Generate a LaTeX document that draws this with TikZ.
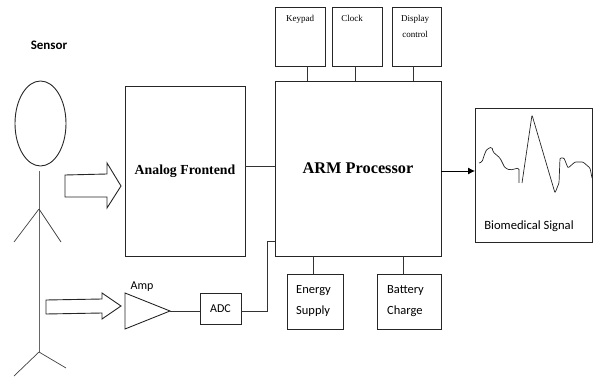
\documentclass[tikz,border=0pt]{standalone}
\usepackage{fontspec}
\setmainfont{Liberation Serif}
\newfontfamily\calibrifont{Carlito}
\usetikzlibrary{arrows.meta,positioning,shapes.geometric}

\begin{document}
\begin{tikzpicture}[
  x=1pt, y=-1pt,
  line width=0.9pt,
  box/.style={draw=black!85, inner sep=0pt, outer sep=0pt},
  arrow/.style={-{Latex[length=7pt,width=7pt]}, line width=0.9pt},
  link/.style={draw=black!80},
  limb/.style={draw=black!75},
  hollow/.style={draw=black!85, fill=white, line join=miter},
  smalltxt/.style={inner sep=0pt, font=\fontsize{9}{16}\selectfont},
  sidetxt/.style={inner sep=0pt, align=left, font=\calibrifont\fontsize{12.5}{21}\selectfont}
]
\useasboundingbox (0,0) rectangle (596,379);

% main blocks
\node[box, minimum width=166pt, minimum height=175pt, font=\bfseries\fontsize{16.3}{18}\selectfont] (arm) at (358,168.5) {ARM Processor};
\node[box, minimum width=120pt, minimum height=170pt, left=30pt of arm, yshift=-2.5pt, font=\bfseries\fontsize{13.8}{16}\selectfont] (af) {Analog Frontend};
\node[box, minimum width=117pt, minimum height=134pt, right=34pt of arm, yshift=-6.5pt] (bio) {};
\node[sidetxt, font=\calibrifont\fontsize{12.6}{14}\selectfont] (biotxt) at (529,226) {Biomedical Signal};

% top row
\node[box, minimum width=50pt, minimum height=59pt, above right=15pt and 0pt of arm.north west] (keypad) {};
\node[box, minimum width=50pt, minimum height=59pt, right=7pt of keypad] (clock) {};
\node[box, minimum width=49pt, minimum height=59pt, right=10pt of clock] (display) {};
\node[smalltxt, below=8pt of keypad.north] (keypadtxt) {Keypad};
\node[smalltxt, below=8pt of clock.north, xshift=-5pt] (clocktxt) {Clock};
\node[smalltxt, below=8pt of display.north, align=center, xshift=-1.5pt] (displaytxt) {Display\\control};

% bottom row
\node[box, minimum width=56pt, minimum height=55pt, below right=18pt and 12pt of arm.south west] (energy) {};
\node[box, minimum width=64pt, minimum height=55pt, right=34pt of energy] (battery) {};
\node[sidetxt] (energytxt) at (313.5,301) {Energy\\Supply};
\node[sidetxt] (batterytxt) at (405.5,301) {Battery\\Charge};

% amp and adc
\node[draw=black!85, isosceles triangle, isosceles triangle stretches, minimum width=36pt, minimum height=45pt, inner sep=0pt, outer sep=0pt, anchor=lower side] (amp) at (125,311) {};
\node[sidetxt, font=\calibrifont\fontsize{12}{14}\selectfont] (amptxt) at (142,287) {Amp};
\node[box, minimum width=41pt, minimum height=31pt, font=\calibrifont\fontsize{12}{14}\selectfont] (adc) at (220.5,308.5) {ADC};
\node[inner sep=0pt, font=\calibrifont\bfseries\fontsize{13}{15}\selectfont] (sensor) at (49,45) {Sensor};

% person
\node[draw=black!85, ellipse, minimum width=51pt, minimum height=85pt, inner sep=0pt, outer sep=0pt] (head) at (40.5,123.5) {};
\coordinate (neck) at (39,171);
\coordinate (hip) at (39,352);
\coordinate (shoulder) at (39,209);
\draw[limb, draw=black!60] (neck) -- (hip);
\draw[limb, line width=0.7pt] (shoulder) -- (14,242);
\draw[limb, line width=0.7pt] (shoulder) -- (61,242);
\draw[limb, line width=0.7pt] (hip) -- (14,376);
\draw[limb, line width=0.7pt] (hip) -- (66,368);

% input arrows
\draw[hollow] (65,175) -- (107,174) -- (107,163) -- (121,186) -- (107,208) -- (107,197) -- (65,197) -- cycle;
\draw[hollow] (46,300) -- (102,299) -- (102,293) -- (121,306) -- (102,319) -- (102,313) -- (46,314) -- cycle;

% connections
\draw[link] ([yshift=5pt]af.east) -- ([yshift=5pt]af.east -| arm.west);
\draw[link] ([xshift=7pt]keypad.south) -- ([xshift=7pt]keypad.south |- arm.north);
\draw[link] ([xshift=-2pt]clock.south) -- ([xshift=-2pt]clock.south |- arm.north);
\draw[link] ([xshift=-3pt]display.south) -- ([xshift=-3pt]display.south |- arm.north);
\draw[link] ([xshift=-2pt]energy.north) -- ([xshift=-2pt]energy.north |- arm.south);
\draw[link] ([xshift=-6pt]battery.north) -- ([xshift=-6pt]battery.north |- arm.south);
\draw[link] (amp.apex) -- (amp.apex -| adc.west);
\coordinate (bend) at (267,241);
\draw[link] (amp.apex -| adc.east) -| (bend) -- (bend -| arm.west);
\draw[arrow] ([yshift=-2.5pt]arm.east) -- ([yshift=-2.5pt]arm.east -| bio.west);

% signal trace
\draw[draw=black!85, line width=0.7pt, rounded corners=1.5pt] (479,163) -- (482,162) -- (485,153) -- (487,149) -- (492,147) -- (493,152) -- (500,158) -- (505,168) -- (510,170) -- (519,168) -- (519,183);
\draw[draw=black!85, line width=0.7pt, rounded corners=1pt] (522,183) -- (532,115) -- (555,193) -- (559,183) -- (560,158) -- (564,158) -- (568,168) -- (575,162) -- (583,162) -- (590,168) -- (592,178);
\end{tikzpicture}
\end{document}
